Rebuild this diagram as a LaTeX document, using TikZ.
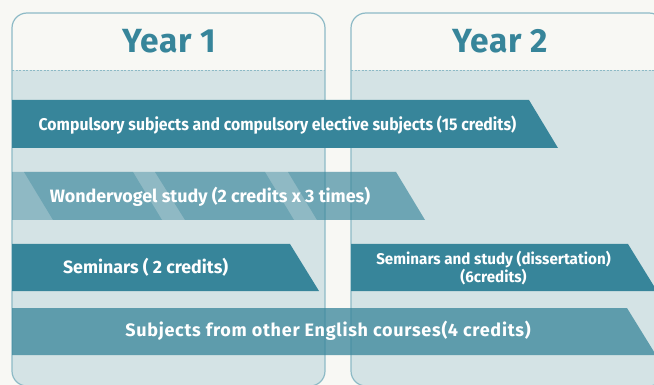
\documentclass[tikz,border=0pt]{standalone}
\usepackage{fontspec}
\setmainfont{Fira Sans}
\newfontfamily\condfont{Fira Sans}[FakeStretch=0.93]
\newfontfamily\semfont{Fira Sans}[FakeStretch=0.98]
\newfontfamily\widefont{Fira Sans}[LetterSpace=4]
\newfontfamily\titlefont{Fira Sans}[LetterSpace=2]
\definecolor{bg}{HTML}{F8F8F4}
\definecolor{panel}{HTML}{D4E3E5}
\definecolor{pline}{HTML}{8DBAC6}
\definecolor{dark}{HTML}{37859A}
\tikzset{
  paneledge/.style={draw=pline, line width=1.2pt, rounded corners=15pt},
  headline/.style={draw=pline, line width=0.8pt, dash pattern=on 2pt off 1.5pt},
  solidbar/.style={fill=dark},
  titlelabel/.style={text=dark, font=\titlefont\bfseries\fontsize{33.5}{36}\selectfont, anchor=base, inner sep=0pt},
  barlabel/.style={text=white, font=\bfseries\fontsize{17.9}{19}\selectfont, anchor=base, inner sep=0pt},
}
\begin{document}
\begin{tikzpicture}[x=1pt,y=-1pt]
\useasboundingbox (0,0) rectangle (654,385);
\clip (0,0) rectangle (654,385);
\fill[bg] (0,0) rectangle (654,385);
% panels
\foreach \xa/\xb in {12/325, 351/664} {
  \begin{scope}
    \clip[rounded corners=15pt] (\xa,13) rectangle (\xb,386);
    \fill[panel] (\xa,70) rectangle (\xb,386);
  \end{scope}
  \draw[paneledge] (\xa,13) rectangle (\xb,386);
  \draw[headline] (\xa,70) -- (\xb,70);
}
\node[titlelabel] (y1) at (169,53) {Year 1};
\node[titlelabel] (y2) at (500,53) {Year 2};
% bar 1
\fill[solidbar] (12,100) -- (529,100) -- (558,148) -- (12,148) -- cycle;
\node[barlabel, font=\condfont\bfseries\fontsize{17}{19}\selectfont] (t1) at (277.5,131) {Compulsory subjects and compulsory elective subjects (15 credits)};
% bar 2 (Wondervogel)
\fill[dark, fill opacity=0.44] (12,172) -- (396,172) -- (425,220) -- (12,220) -- cycle;
\fill[dark, fill opacity=0.375] (24,172) -- (133,172) -- (162,220) -- (53,220) -- cycle;
\fill[dark, fill opacity=0.375] (155,172) -- (265,172) -- (294,220) -- (185,220) -- cycle;
\fill[dark, fill opacity=0.375] (288,172) -- (396,172) -- (425,220) -- (317,220) -- cycle;
\node[barlabel] (t2) at (210,202.7) {Wondervogel study (2 credits x 3 times)};
% bar 3
\fill[solidbar] (12,244) -- (290,244) -- (319,291) -- (12,291) -- cycle;
\node[barlabel, font=\bfseries\fontsize{17.8}{19}\selectfont] (t3) at (145.6,273) {Seminars ( 2 credits)};
% bar 4
\fill[solidbar] (351,244) -- (628,244) -- (657,291) -- (351,291) -- cycle;
\node[barlabel, font=\semfont\bfseries\fontsize{15.5}{17}\selectfont] (t4a) at (493.5,265) {Seminars and study (dissertation)};
\node[barlabel, font=\semfont\bfseries\fontsize{15.5}{17}\selectfont] (t4b) at (493.5,282.7) {(6credits)};
% bar 5
\fill[dark, fill opacity=0.75] (12,308) -- (627,308) -- (656,355) -- (12,355) -- cycle;
\node[barlabel, font=\widefont\bfseries\fontsize{18}{19}\selectfont] (t5) at (328,336.7) {Subjects from other English courses(4 credits)};
\end{tikzpicture}
\end{document}
